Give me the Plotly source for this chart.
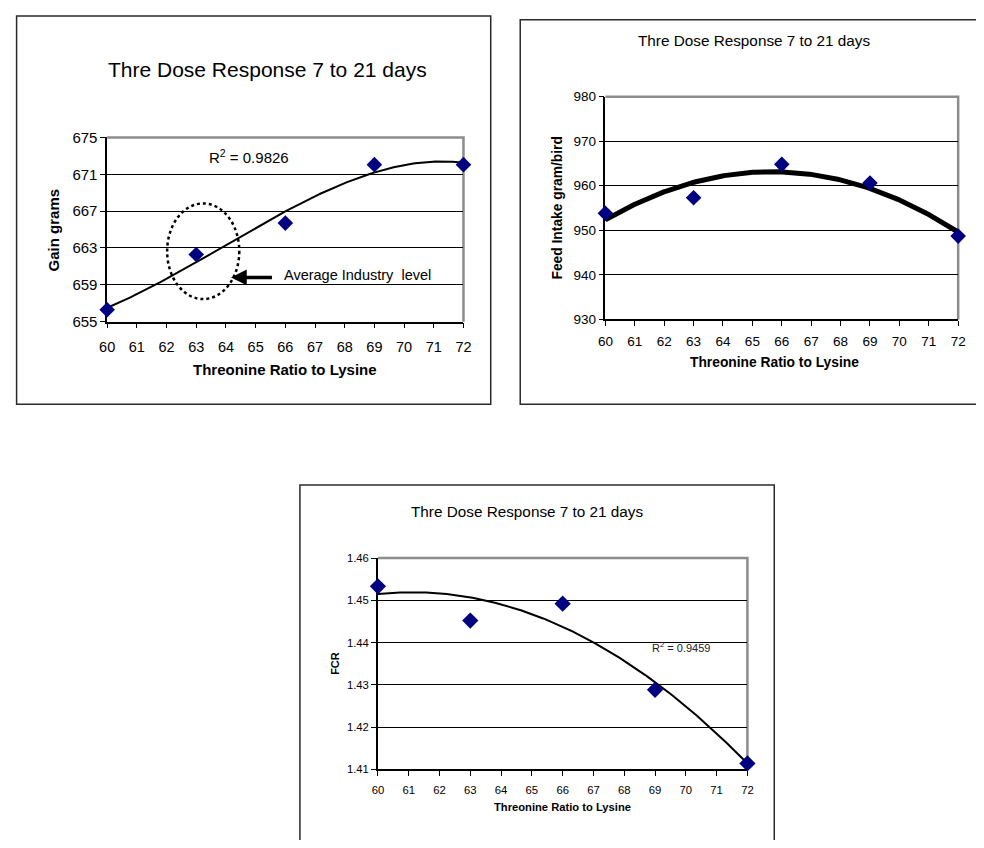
import numpy as np
import plotly.graph_objects as go

# page body keeps an 8px margin, so the figure is sized to fill the window exactly
PAGE_W, PAGE_H = 984, 848
OFF = 8
W, H = PAGE_W - 2 * OFF, PAGE_H - 2 * OFF

# ---------------- data ----------------
ratio = [60, 63, 66, 69, 72]
gain = [656.3, 662.3, 665.7, 672.05, 672.05]
feed_intake = [953.8, 957.3, 964.8, 960.6, 948.7]
fcr = [1.4533, 1.4452, 1.4492, 1.4288, 1.4114]

title_text = "Thre Dose Response 7 to 21 days"
x_title = "Threonine Ratio to Lysine"
gain_title = "Gain grams"
feed_title = "Feed Intake gram/bird"
fcr_title = "FCR"
r2_gain = "R<sup>2</sup> = 0.9826"
r2_fcr = "R<sup>2</sup> = 0.9459"
industry_note = "Average Industry\u00a0 level"

gain_ticks = [655, 659, 663, 667, 671, 675]
feed_ticks = [930, 940, 950, 960, 970, 980]
fcr_ticks = [1.41, 1.42, 1.43, 1.44, 1.45, 1.46]
fcr_tick_labels = ["1.41", "1.42", "1.43", "1.44", "1.45", "1.46"]
x_ticks = list(range(60, 73))

FONT = "Liberation Sans, Arial, sans-serif"
NAVY = "#000080"

def px(x):
    return (x - OFF) / W

def py(y):
    return 1 - (y - OFF) / H

# trend lines from fits of the data
xs = np.linspace(60, 72, 200)
gain_fit = np.polyval(np.polyfit(ratio, gain, 3), xs)
feed_fit = np.polyval(np.polyfit(ratio, feed_intake, 2), xs)
fcr_fit = np.polyval(np.polyfit(ratio, fcr, 2), xs)

fig = go.Figure()

# chart 1
fig.add_trace(go.Scatter(x=xs, y=gain_fit, mode="lines", line=dict(color="black", width=2),
                         xaxis="x", yaxis="y", hoverinfo="skip", cliponaxis=False))
fig.add_trace(go.Scatter(x=ratio, y=gain, mode="markers", cliponaxis=False,
                         marker=dict(symbol="diamond", size=12, color=NAVY, line=dict(width=0)),
                         xaxis="x", yaxis="y"))
# chart 2
fig.add_trace(go.Scatter(x=xs, y=feed_fit, mode="lines", line=dict(color="black", width=5),
                         xaxis="x2", yaxis="y2", hoverinfo="skip", cliponaxis=False))
fig.add_trace(go.Scatter(x=ratio, y=feed_intake, mode="markers", cliponaxis=False,
                         marker=dict(symbol="diamond", size=12, color=NAVY, line=dict(width=0)),
                         xaxis="x2", yaxis="y2"))
# chart 3
fig.add_trace(go.Scatter(x=xs, y=fcr_fit, mode="lines", line=dict(color="black", width=2),
                         xaxis="x3", yaxis="y3", hoverinfo="skip", cliponaxis=False))
fig.add_trace(go.Scatter(x=ratio, y=fcr, mode="markers", cliponaxis=False,
                         marker=dict(symbol="diamond", size=12.5, color=NAVY, line=dict(width=0)),
                         xaxis="x3", yaxis="y3"))

def xaxis(domain, anchor, fsize, standoff):
    return dict(domain=domain, anchor=anchor, range=[60, 72], tickvals=x_ticks,
                showgrid=False, zeroline=False, showline=True, linecolor="black", linewidth=1.5,
                ticks="outside", ticklen=5, tickcolor="black", tickwidth=1,
                tickfont=dict(family=FONT, size=fsize, color="black"),
                ticklabelstandoff=standoff, layer="below traces")

def yaxis(domain, anchor, rng, tickvals, fsize, ticktext=None):
    d = dict(domain=domain, anchor=anchor, range=rng, tickvals=tickvals,
             showgrid=True, gridcolor="black", gridwidth=1, zeroline=False,
             showline=True, linecolor="black", linewidth=1.5,
             ticks="outside", ticklen=5, tickcolor="black", tickwidth=1,
             tickfont=dict(family=FONT, size=fsize, color="black"), layer="below traces")
    if ticktext is not None:
        d["ticktext"] = ticktext
    return d

d1x = [px(100.7), px(463)]
d1y = [py(319), py(131)]
d2x = [px(607.3), px(966)]
d2y = [py(316.7), py(89.3)]
d3x = [px(376), px(751.7)]
d3y = [py(776), py(560.3)]

shapes = []
# outer boxes
for (x0, y0, x1, y1) in [(8.6, 6.9, 490.7, 403.3), (520.7, 10.7, 1000, 403.3), (296.7, 485.7, 779, 870)]:
    shapes.append(dict(type="rect", xref="paper", yref="paper", x0=px(x0), x1=px(x1), y0=py(y1), y1=py(y0),
                       line=dict(color="#2a2a2a", width=1.5), layer="below"))
# gray plot-area border (top and right)
for xr, yr in [("x", "y"), ("x2", "y2"), ("x3", "y3")]:
    shapes.append(dict(type="path", xref=xr + " domain", yref=yr + " domain",
                       path="M 0,1 L 1,1 L 1,0", line=dict(color="#8c8c8c", width=2.5), layer="below"))

# dotted ellipse around industry level
ell_x = [62.02, 64.45]
ell_y = [657.45, 667.84]
shapes.append(dict(type="circle", xref="x", yref="y", x0=ell_x[0], x1=ell_x[1], y0=ell_y[0], y1=ell_y[1],
                   line=dict(color="black", width=2.5, dash="dot")))

annotations = []
def ann(text, x, y, size, bold=False, angle=0):
    annotations.append(dict(text=("<b>%s</b>" % text) if bold else text, x=px(x), y=py(y),
                            xref="paper", yref="paper", showarrow=False, textangle=angle,
                            xanchor="center", yanchor="middle",
                            font=dict(family=FONT, size=size, color="black")))

# chart 1 texts
ann(title_text, 263.8, 61.7, 21)
ann(x_title, 281.7, 368.3, 15, bold=True)
ann(gain_title, 45.7, 225.8, 15, bold=True, angle=-90)
# chart 2 texts
ann(title_text, 758, 31.7, 15.3)
ann(x_title, 779.2, 361, 13.8, bold=True)
ann(feed_title, 558.3, 203.3, 13.8, bold=True, angle=-90)
# chart 3 texts
ann(title_text, 527.7, 513.3, 15.3)
ann(x_title, 563.3, 814, 11.2, bold=True)
ann(fcr_title, 331.7, 668, 11, bold=True, angle=-90)

# R^2 labels and note (data coordinates)
annotations.append(dict(text=r2_gain, x=64.79, y=672.9, xref="x", yref="y", showarrow=False,
                        font=dict(family=FONT, size=15, color="black")))
annotations.append(dict(text=r2_fcr, x=69.85, y=1.439, xref="x3", yref="y3", showarrow=False,
                        font=dict(family=FONT, size=11, color="#222")))
annotations.append(dict(text=industry_note, x=65.9, y=660.1, xref="x", yref="y", showarrow=False,
                        xanchor="left", font=dict(family=FONT, size=14.5, color="black")))
# arrow
annotations.append(dict(text="", x=64.17, y=659.8, xref="x", yref="y", ax=65.6, ay=659.8,
                        axref="x", ayref="y", showarrow=True, arrowhead=2, arrowsize=0.9,
                        arrowwidth=3.5, arrowcolor="black"))

fig.update_layout(
    width=W, height=H, margin=dict(l=0, r=0, t=0, b=0),
    paper_bgcolor="white", plot_bgcolor="white", showlegend=False,
    xaxis=xaxis(d1x, "y", 14.5, 6),
    yaxis=yaxis(d1y, "x", [655, 675], gain_ticks, 15),
    xaxis2=xaxis(d2x, "y2", 13.5, 4),
    yaxis2=yaxis(d2y, "x2", [930, 980], feed_ticks, 13.5),
    xaxis3=xaxis(d3x, "y3", 11.3, 4),
    yaxis3=yaxis(d3y, "x3", [1.41, 1.46], fcr_ticks, 11.3, fcr_tick_labels),
    shapes=shapes, annotations=annotations,
)

fig.write_html("out.html", config={"displayModeBar": False})
